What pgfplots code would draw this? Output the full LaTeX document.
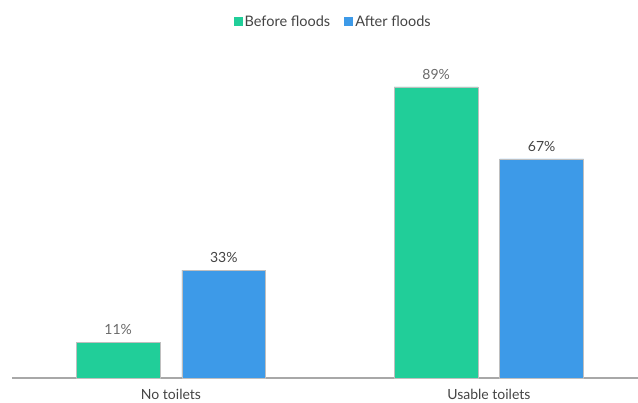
\documentclass[border=0pt]{standalone}
\usepackage{fontspec}
\setmainfont{Lato}
\usepackage{pgfplots}
\pgfplotsset{compat=1.18}
\definecolor{grn}{HTML}{21CE99}
\definecolor{blu}{HTML}{3D9AE8}
\definecolor{txt}{HTML}{444444}
\definecolor{lbl}{HTML}{6A6A6A}
\definecolor{axl}{HTML}{A8A8A8}
\begin{document}
\begin{tikzpicture}
\path[use as bounding box] (-12pt,-25pt) rectangle (626pt,378pt);
\begin{axis}[
  at={(0pt,0pt)}, anchor=south west,
  scale only axis, width=626pt, height=327pt,
  xmin=-0.5, xmax=1.469, ymin=0, ymax=100,
  axis x line*=bottom, axis y line=none,
  x axis line style={axl, line width=1.3pt},
  xtick={0,1}, xticklabels={No toilets, Usable toilets},
  major tick length=0pt,
  xticklabel style={font=\fontsize{14}{16}\selectfont, text=txt, anchor=base, yshift=-22pt},
  ybar, bar width=0.264,
  /pgf/number format/assume math mode=true,
  nodes near coords={\pgfmathprintnumber{\pgfplotspointmeta}\%},
  nodes near coords style={font=\fontsize{14}{16}\selectfont, anchor=south, yshift=3.5pt},
  legend columns=2,
  legend style={at={(0.513,1.089)}, anchor=center, draw=none, fill=none,
    font=\fontsize{14.5}{16}\selectfont, text=txt,
    /tikz/every even column/.append style={column sep=12pt}},
  legend image code/.code={\fill[#1,draw=none] (-2pt,-4.5pt) rectangle (7pt,4.5pt);},
  clip=false,
]
\addplot[ybar, bar shift=-0.166, fill=grn, draw=black!25, line width=0.5pt,
  nodes near coords style={text=lbl}] coordinates {(0,11) (1,89)};
\addplot[ybar, bar shift=0.166, fill=blu, draw=black!25, line width=0.5pt,
  nodes near coords style={text=txt}] coordinates {(0,33) (1,67)};
\legend{Before floods, After floods}
\end{axis}
\end{tikzpicture}
\end{document}
